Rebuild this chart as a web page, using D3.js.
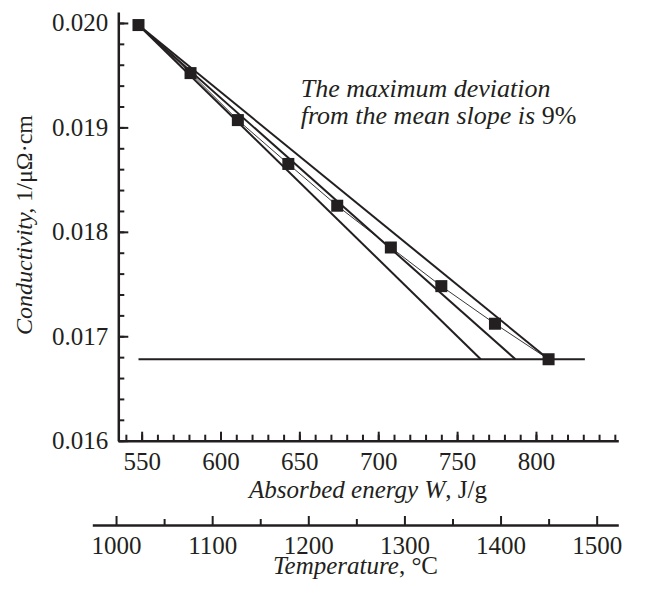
<!DOCTYPE html>
<html>
<head>
<meta charset="utf-8">
<script src="https://cdn.jsdelivr.net/npm/d3@7"></script>
<style>
  body { margin: 0; background: #fff; }
  svg { display: block; font-family: "Liberation Serif", "Times New Roman", serif; }
  .axis path, .axis line { stroke: #231f20; }
  .axis text { fill: #231f20; font-size: 25px; font-family: "Liberation Serif", "Times New Roman", serif; }
</style>
</head>
<body>
<svg id="chart" width="646" height="590"></svg>
<script>
// Data
const energy = [548, 581, 611, 643, 674, 708, 740, 774, 808]; // J/g
const conductivity = [0.01998, 0.01952, 0.01907, 0.01865, 0.01825, 0.01785, 0.01748, 0.01712, 0.01678];
// straight lines from the first point down to the final level
const fitEnds = [765, 787, 808];
const finalLevel = 0.01678;
const levelSpan = [548, 831];

const energyTicks = [550, 600, 650, 700, 750, 800];
const energyMinor = d3.range(540, 851, 10);
const tempTicks = [1000, 1100, 1200, 1300, 1400, 1500];
const tempMinor = d3.range(1050, 1451, 100);
const condTicks = [0.016, 0.017, 0.018, 0.019, 0.02];
const condMinor = d3.range(0, 21).map((i) => 0.016 + i * 0.0002);

const ink = "#231f20";
const svg = d3.select("#chart");

// Scales
const x = d3.scaleLinear().domain([535.2, 852.2]).range([118.3, 618.3]);
const t = d3.scaleLinear().domain([975.3, 1522.5]).range([92.3, 618.3]);
const y = d3.scaleLinear().domain([0.016, 0.020105]).range([440.7, 12]);

// Y axis
svg.append("g")
  .attr("class", "axis")
  .attr("transform", "translate(118.3,0)")
  .call(d3.axisLeft(y).tickValues(condMinor).tickSize(-6).tickSizeOuter(0).tickFormat(""))
  .call((g) => g.select(".domain").remove())
  .call((g) => g.selectAll("line").attr("stroke-width", 2));

svg.append("g")
  .attr("class", "axis")
  .attr("transform", "translate(118.3,0)")
  .call(d3.axisLeft(y).tickValues(condTicks).tickSize(-10).tickSizeOuter(0).tickPadding(10).tickFormat(d3.format(".3f")))
  .call((g) => g.select(".domain").attr("stroke-width", 2.5))
  .call((g) => g.selectAll("line").attr("stroke-width", 2));

// Energy axis
svg.append("g")
  .attr("class", "axis")
  .attr("transform", "translate(0,440.7)")
  .call(d3.axisBottom(x).tickValues(energyMinor).tickSize(-6).tickSizeOuter(0).tickFormat(""))
  .call((g) => g.select(".domain").remove())
  .call((g) => g.selectAll("line").attr("stroke-width", 2));

svg.append("g")
  .attr("class", "axis")
  .attr("transform", "translate(0,440.7)")
  .call(d3.axisBottom(x).tickValues(energyTicks).tickSize(-9).tickSizeOuter(0).tickPadding(12).tickFormat(d3.format("d")))
  .call((g) => g.select(".domain").attr("stroke-width", 2.5))
  .call((g) => g.selectAll("line").attr("stroke-width", 2));

// Temperature axis
svg.append("g")
  .attr("class", "axis")
  .attr("transform", "translate(0,525)")
  .call(d3.axisBottom(t).tickValues(tempMinor).tickSize(-6).tickSizeOuter(0).tickFormat(""))
  .call((g) => g.select(".domain").remove())
  .call((g) => g.selectAll("line").attr("stroke-width", 2));

svg.append("g")
  .attr("class", "axis")
  .attr("transform", "translate(0,525)")
  .call(d3.axisBottom(t).tickValues(tempTicks).tickSize(-9).tickSizeOuter(0).tickPadding(11).tickFormat(d3.format("d")))
  .call((g) => g.select(".domain").attr("stroke-width", 2.5))
  .call((g) => g.selectAll("line").attr("stroke-width", 2));

// Final level line
svg.append("line")
  .attr("x1", x(levelSpan[0])).attr("x2", x(levelSpan[1]))
  .attr("y1", y(finalLevel)).attr("y2", y(finalLevel))
  .attr("stroke", ink).attr("stroke-width", 2);

// Slope lines
fitEnds.forEach((e) => {
  svg.append("line")
    .attr("x1", x(energy[0])).attr("y1", y(conductivity[0]))
    .attr("x2", x(e)).attr("y2", y(finalLevel))
    .attr("stroke", ink).attr("stroke-width", 2);
});

// Measured data
const pts = energy.map((e, i) => [e, conductivity[i]]);
svg.append("path")
  .datum(pts)
  .attr("fill", "none")
  .attr("stroke", ink)
  .attr("stroke-width", 0.9)
  .attr("d", d3.line().x((d) => x(d[0])).y((d) => y(d[1])));

svg.selectAll("rect.pt")
  .data(pts)
  .enter()
  .append("rect")
  .attr("class", "pt")
  .attr("x", (d) => x(d[0]) - 6)
  .attr("y", (d) => y(d[1]) - 6)
  .attr("width", 12)
  .attr("height", 12)
  .attr("fill", ink);

// Annotation
const note = svg.append("text")
  .attr("x", 300.7).attr("y", 97.3)
  .attr("font-size", 26).attr("fill", ink).attr("font-style", "italic");
note.append("tspan").attr("x", 300.7).text("The maximum deviation");
const line2 = note.append("tspan").attr("x", 300.7).attr("dy", 26.5);
line2.append("tspan").text("from the mean slope is ");
line2.append("tspan").attr("font-style", "normal").text("9%");

// Axis titles
const yt = svg.append("text")
  .attr("transform", "translate(32,225) rotate(-90)")
  .attr("text-anchor", "middle")
  .attr("font-size", 24).attr("fill", ink);
yt.append("tspan").attr("font-style", "italic").text("Conductivity,");
yt.append("tspan").text(" 1/μΩ·cm");

const xt = svg.append("text")
  .attr("x", 368).attr("y", 498.3)
  .attr("text-anchor", "middle")
  .attr("font-size", 25).attr("fill", ink);
xt.append("tspan").attr("font-style", "italic").text("Absorbed energy W");
xt.append("tspan").text(", J/g");

const tt = svg.append("text")
  .attr("x", 355.5).attr("y", 574)
  .attr("text-anchor", "middle")
  .attr("font-size", 25).attr("fill", ink);
tt.append("tspan").attr("font-style", "italic").text("Temperature");
tt.append("tspan").text(", °C");
</script>
</body>
</html>
